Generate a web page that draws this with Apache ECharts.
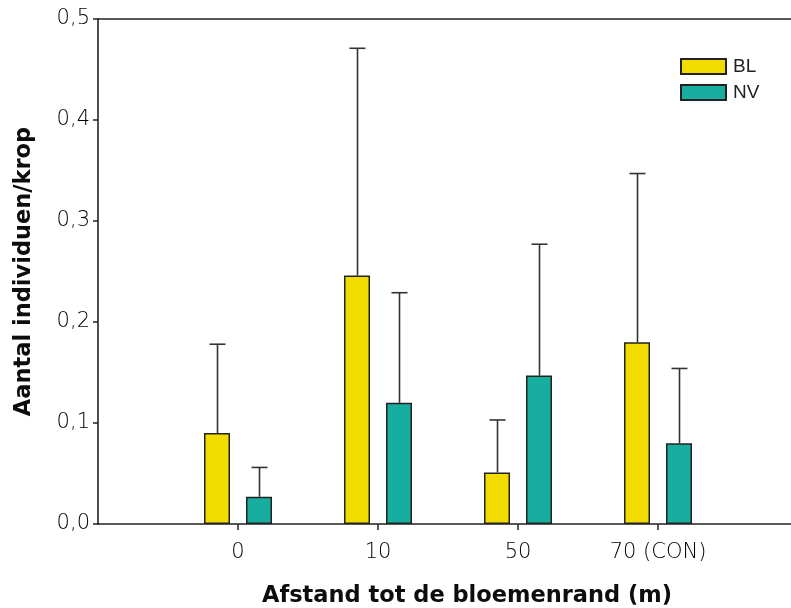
<!DOCTYPE html>
<html>
<head>
<meta charset="utf-8">
<script src="https://cdn.jsdelivr.net/npm/echarts@6/dist/echarts.min.js"></script>
<style>
  html, body { margin: 0; padding: 0; background: #fff; }
  #chart { width: 791px; height: 608px; }
</style>
</head>
<body>
<div id="chart"></div>
<script>
// Distance classes (empty slots pad the axis on both ends)
const categories = ['', '0', '10', '50', '70 (CON)', ''];
const groups = ['0', '10', '50', '70 (CON)'];

// Mean number of individuals per head, with upper error
const blMean = [0.090, 0.246, 0.051, 0.180];
const blErr  = [0.088, 0.225, 0.052, 0.167];
const nvMean = [0.027, 0.120, 0.147, 0.080];
const nvErr  = [0.029, 0.109, 0.130, 0.074];

const yTicks = [0, 0.1, 0.2, 0.3, 0.4, 0.5];

const BAR_W = 26;
const BAR_GAP = 16;
const HALF_SHIFT = (BAR_W + BAR_GAP) / 2;

function pad(arr) {
  return ['-'].concat(arr, ['-']);
}

function errData(mean, err) {
  return mean.map((m, i) => [i + 1, m, m + err[i]]);
}

function errorBars(shift) {
  return function (params, api) {
    const cat = api.value(0);
    const lo = api.coord([cat, api.value(1)]);
    const hi = api.coord([cat, api.value(2)]);
    const x = Math.round(lo[0] + shift) + 0.5;
    const cap = 8;
    const style = { stroke: '#333', lineWidth: 1.6 };
    return {
      type: 'group',
      children: [
        { type: 'line', shape: { x1: x, y1: lo[1], x2: x, y2: hi[1] }, style: style },
        { type: 'line', shape: { x1: x - cap, y1: hi[1], x2: x + cap, y2: hi[1] }, style: style }
      ]
    };
  };
}

const tickFont = { fontFamily: 'DejaVu Sans', fontWeight: 200, fontSize: 21, color: '#000' };
const titleFont = { fontFamily: 'DejaVu Sans', fontWeight: 'bold', fontSize: 22.5, color: '#0d0d0d' };

const chart = echarts.init(document.getElementById('chart'));
chart.setOption({
  animation: false,
  backgroundColor: '#fff',
  grid: { left: 98, width: 700, top: 19, bottom: 84, containLabel: false, outerBoundsMode: 'none' },
  legend: {
    data: ['BL', 'NV'],
    orient: 'vertical',
    left: 675,
    top: 52,
    itemWidth: 45,
    itemHeight: 15,
    itemGap: 7,
    icon: 'rect',
    textStyle: { fontFamily: 'Liberation Sans', fontSize: 19, color: '#222', padding: [0, 0, 0, 2] }
  },
  xAxis: [{
    type: 'category',
    data: categories,
    boundaryGap: false,
    axisLine: { lineStyle: { color: '#222', width: 1.6 } },
    axisTick: {
      length: 6,
      lineStyle: { color: '#222', width: 1.5 },
      interval: (i, v) => v !== ''
    },
    axisLabel: Object.assign({ interval: 0, margin: 18 }, tickFont),
    name: 'Afstand tot de bloemenrand (m)',
    nameLocation: 'middle',
    nameGap: 61,
    nameTextStyle: Object.assign({ padding: [0, 0, 0, 38] }, titleFont)
  }, {
    type: 'category',
    data: categories,
    position: 'top',
    boundaryGap: false,
    axisLine: { show: true, lineStyle: { color: '#222', width: 1.6 } },
    axisTick: { show: false },
    axisLabel: { show: false }
  }],
  yAxis: {
    type: 'value',
    min: 0,
    max: 0.5,
    interval: 0.1,
    axisLine: { show: true, lineStyle: { color: '#222', width: 1.6 } },
    axisTick: { show: true, length: 5, lineStyle: { color: '#222', width: 1.5 } },
    splitLine: { show: false },
    axisLabel: Object.assign({
      margin: 8,
      formatter: v => {
        const t = yTicks.find(k => Math.abs(k - v) < 1e-9);
        return (t !== undefined ? t : v).toFixed(1).replace('.', ',');
      }
    }, tickFont),
    name: 'Aantal individuen/krop',
    nameLocation: 'middle',
    nameGap: 62,
    nameTextStyle: titleFont
  },
  series: [
    {
      name: 'BL',
      type: 'bar',
      data: pad(blMean),
      barWidth: BAR_W,
      barGap: (BAR_GAP / BAR_W * 100) + '%',
      itemStyle: { color: '#F2DC00', borderColor: '#222', borderWidth: 1.5 },
      z: 3
    },
    {
      name: 'NV',
      type: 'bar',
      data: pad(nvMean),
      barWidth: BAR_W,
      barGap: (BAR_GAP / BAR_W * 100) + '%',
      itemStyle: { color: '#17AE9F', borderColor: '#222', borderWidth: 1.5 },
      z: 3
    },
    {
      type: 'custom',
      renderItem: errorBars(-HALF_SHIFT),
      data: errData(blMean, blErr),
      encode: { x: 0, y: [1, 2] },
      z: 2,
      silent: true
    },
    {
      type: 'custom',
      renderItem: errorBars(HALF_SHIFT),
      data: errData(nvMean, nvErr),
      encode: { x: 0, y: [1, 2] },
      z: 2,
      silent: true
    }
  ]
});
</script>
</body>
</html>
